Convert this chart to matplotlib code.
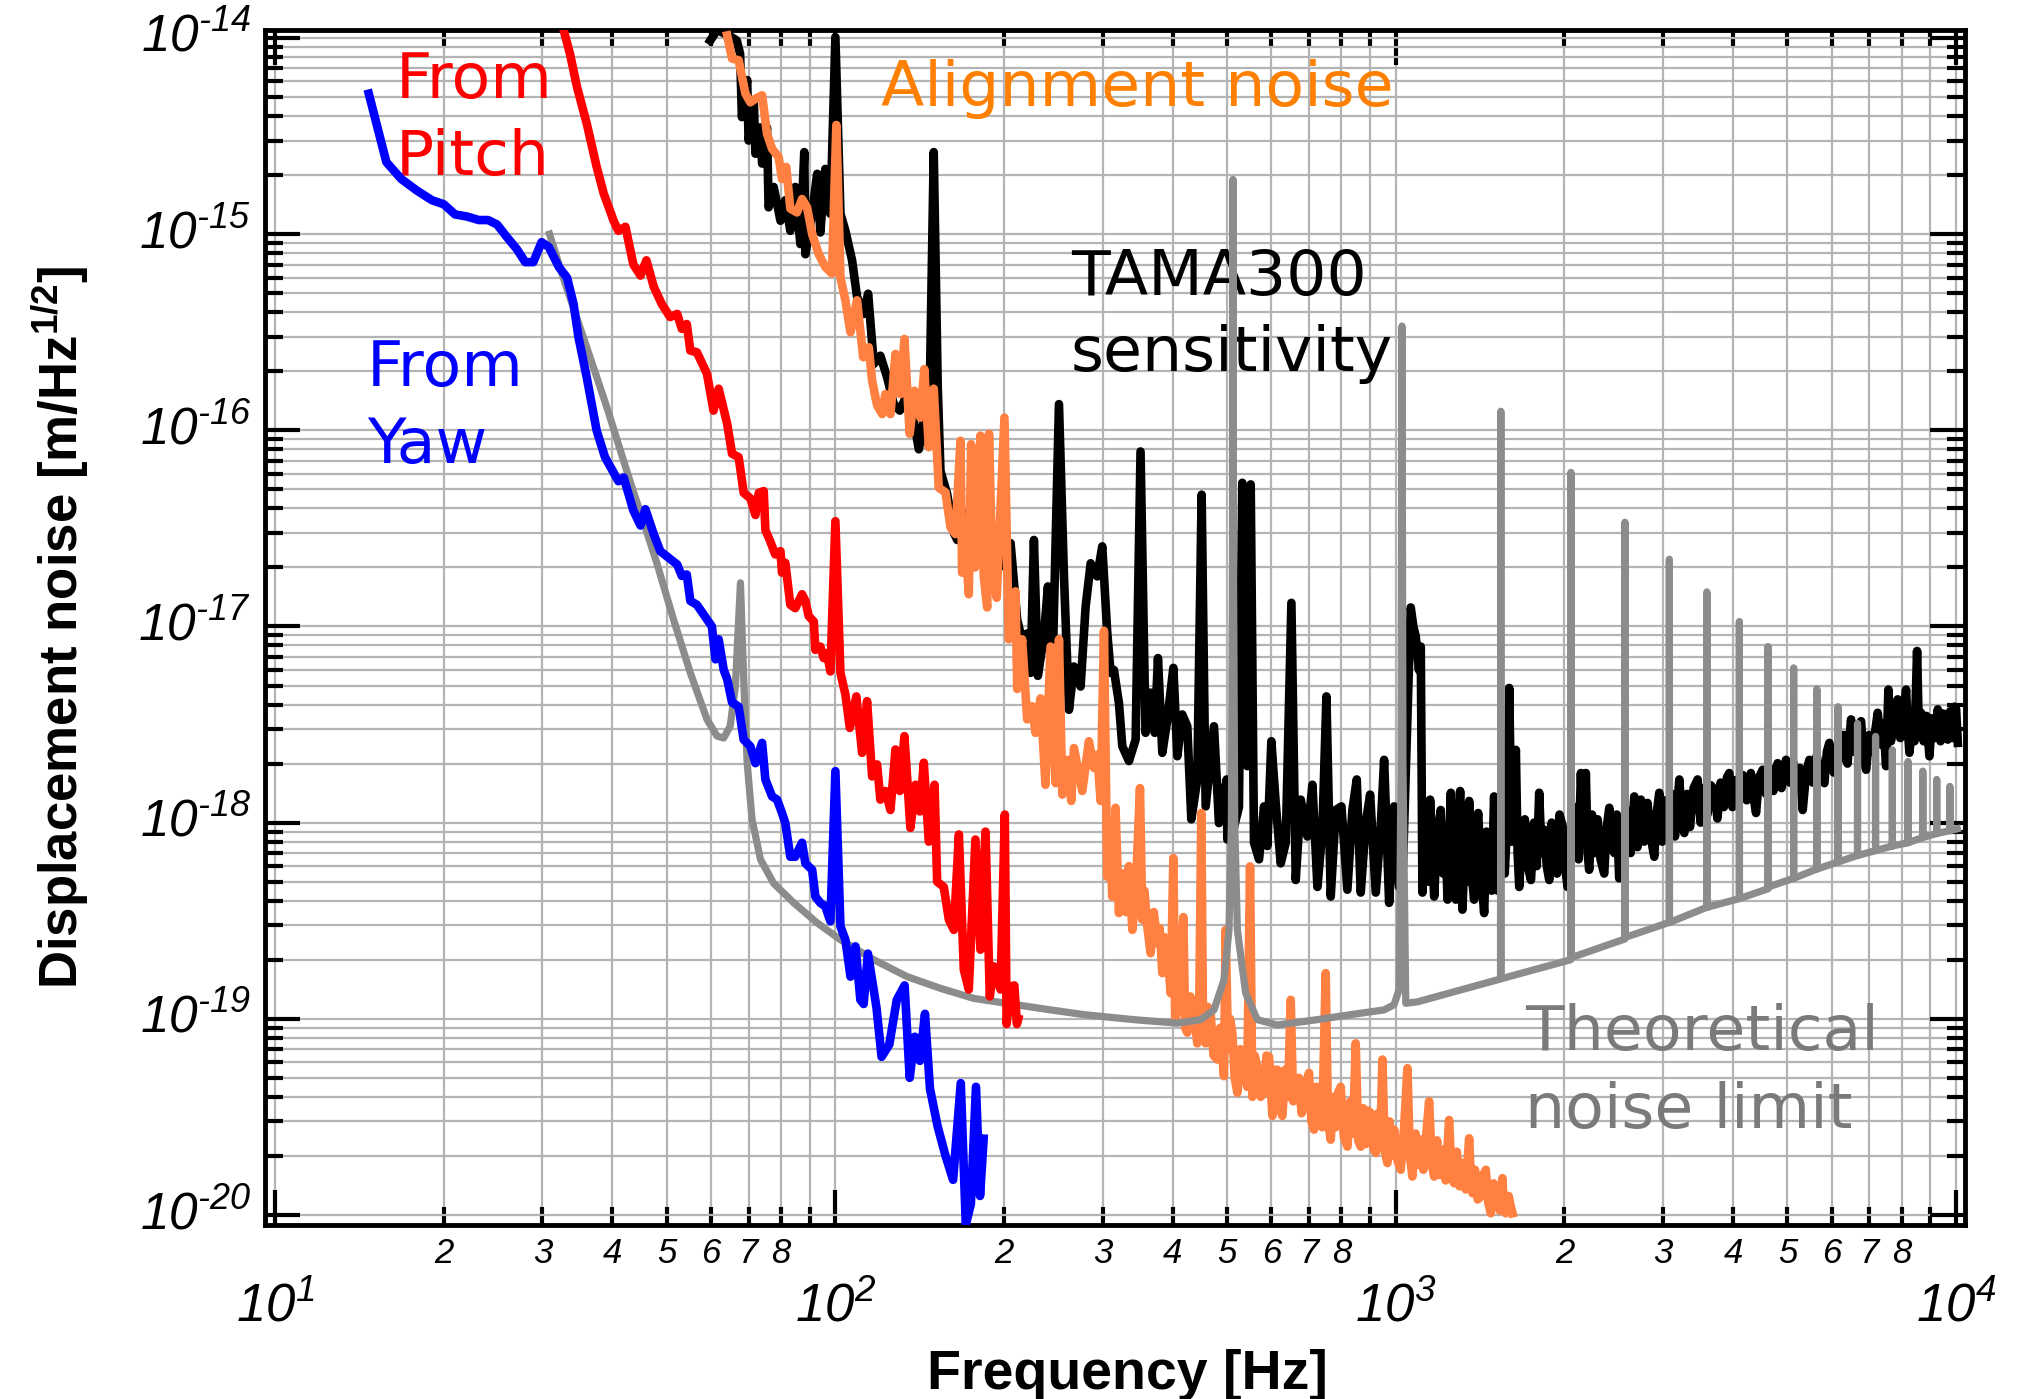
import matplotlib.pyplot as plt
from matplotlib.transforms import ScaledTranslation

# "From Yaw" (blue)
yaw_freq = [14.7, 15.8, 16.8, 17.9, 19.05, 20.0, 20.96, 22.0, 23.1, 24.0, 24.9, 25.9, 27.0, 27.96,
            28.9, 29.9, 30.8, 32.1, 33.2, 34.1, 34.8, 36.0, 37.5, 38.8, 41.0, 41.9, 43.6, 44.9,
            45.8, 47.4, 48.7, 50.4, 52.2, 53.2, 54.3, 55.1, 56.6, 58.2, 60.2, 61.1, 61.9, 63.2,
            64.1, 65.4, 67.2, 68.6, 70.5, 72.0, 74.0, 75.0, 77.1, 78.7, 80.3, 81.4, 83.1, 84.8,
            87.2, 88.4, 90.9, 92.1, 94.0, 95.95, 97.97, 100.0, 102.1, 104.2, 106.4, 108.6, 110.8,
            112.3, 114.3, 118.4, 120.9, 124.8, 128.7, 132.9, 135.7, 138.6, 141.5, 144.5, 147.5,
            152.2, 157.1, 162.2, 167.4, 170.9, 174.5, 178.2, 181.2, 183.9]
yaw_amp = [5.2e-15, 2.33e-15, 1.91e-15, 1.67e-15, 1.49e-15, 1.42e-15, 1.26e-15, 1.23e-15, 1.18e-15,
           1.18e-15, 1.12e-15, 9.7e-16, 8.4e-16, 7.2e-16, 7.2e-16, 9.1e-16, 8.6e-16, 6.8e-16,
           6.0e-16, 4.4e-16, 2.98e-16, 1.86e-16, 9.95e-17, 7.3e-17, 5.5e-17, 5.75e-17, 3.9e-17,
           3.27e-17, 3.96e-17, 2.96e-17, 2.42e-17, 2.24e-17, 2.07e-17, 1.81e-17, 1.84e-17,
           1.35e-17, 1.29e-17, 1.15e-17, 1.0e-17, 6.8e-18, 8.6e-18, 6.0e-18, 5.4e-18, 4.1e-18,
           3.9e-18, 2.65e-18, 2.45e-18, 2.01e-18, 2.55e-18, 1.66e-18, 1.36e-18, 1.31e-18,
           1.12e-18, 9.95e-19, 6.7e-19, 6.7e-19, 7.9e-19, 6.2e-19, 5.75e-19, 4.2e-19, 3.9e-19,
           3.74e-19, 3.14e-19, 1.83e-18, 2.96e-19, 2.53e-19, 1.64e-19, 2.34e-19, 1.25e-19,
           1.19e-19, 2.15e-19, 1.14e-19, 6.4e-20, 7.4e-20, 1.25e-19, 1.48e-19, 5.0e-20, 8.1e-20,
           6.1e-20, 1.06e-19, 4.4e-20, 2.83e-20, 2.02e-20, 1.51e-20, 4.7e-20, 8.9e-21, 1.14e-20,
           4.5e-20, 1.25e-20, 2.45e-20]

# "From Pitch" (red)
pitch_freq = [32.6, 33.6, 34.6, 36.0, 37.5, 38.6, 40.2, 41.0, 42.2, 43.6, 44.9, 46.0, 47.4, 49.0,
              50.7, 52.2, 53.2, 54.3, 55.1, 56.6, 59.0, 60.6, 61.9, 64.1, 65.4, 67.2, 68.6, 70.5,
              72.0, 73.0, 74.5, 75.0, 76.5, 78.1, 79.8, 80.3, 81.4, 83.1, 84.8, 87.2, 88.4, 89.6,
              91.5, 92.1, 94.0, 95.3, 96.6, 97.97, 100.0, 102.1, 104.2, 106.1, 109.0, 111.6, 113.9,
              116.3, 118.7, 120.3, 122.8, 125.4, 128.0, 130.3, 132.8, 136.1, 139.0, 141.5, 143.8,
              146.8, 150.3, 151.9, 156.1, 159.4, 162.7, 166.1, 169.5, 173.0, 177.8, 181.5, 185.3,
              188.6, 191.7, 197.1, 200.6, 202.1, 205.3, 208.6, 210.8, 212.0]
pitch_amp = [1.15e-14, 8.3e-15, 5.6e-15, 3.66e-15, 2.2e-15, 1.61e-15, 1.17e-15, 1.04e-15, 1.09e-15,
             7.0e-16, 6.15e-16, 7.35e-16, 5.4e-16, 4.4e-16, 3.78e-16, 3.92e-16, 3.29e-16, 3.48e-16,
             2.55e-16, 2.5e-16, 1.94e-16, 1.26e-16, 1.63e-16, 1.08e-16, 7.6e-17, 7.3e-17, 4.8e-17,
             4.5e-17, 3.7e-17, 4.8e-17, 4.9e-17, 3.1e-17, 2.72e-17, 2.33e-17, 2.42e-17, 1.88e-17,
             2.11e-17, 1.29e-17, 1.24e-17, 1.46e-17, 1.35e-17, 1.13e-17, 1.06e-17, 7.6e-18, 7.9e-18,
             6.9e-18, 7.3e-18, 5.9e-18, 3.44e-17, 5.8e-18, 4.5e-18, 3.04e-18, 4.4e-18, 2.27e-18,
             4.16e-18, 1.72e-18, 1.98e-18, 1.31e-18, 1.45e-18, 1.16e-18, 2.36e-18, 1.45e-18,
             2.76e-18, 9.4e-19, 1.56e-18, 1.14e-18, 2.02e-18, 8.0e-19, 1.56e-18, 5.0e-19, 4.7e-19,
             3.2e-19, 2.84e-19, 8.7e-19, 1.78e-19, 1.41e-19, 8.2e-19, 2.25e-19, 9.0e-19, 1.3e-19,
             1.85e-19, 1.41e-19, 1.1e-18, 9.4e-20, 1.46e-19, 1.48e-19, 9.4e-20, 1.0e-19]

# Alignment noise (orange)
align_freq = [64.1, 65.4, 67.2, 69.1, 70.5, 72.0, 74.0, 75.5, 77.1, 79.2, 80.3, 81.7, 83.1, 85.4,
              87.2, 89.0, 90.9, 93.4, 95.95, 98.6, 100.4, 102.1, 104.2, 106.4, 109.3, 112.1, 114.7,
              116.3, 118.7, 121.2, 122.8, 125.4, 128.0, 130.6, 132.8, 135.7, 138.4, 141.8, 144.1,
              146.8, 149.8, 152.9, 157.2, 160.5, 163.8, 167.2, 168.3, 170.7, 173.0, 174.7, 177.5,
              180.3, 181.5, 184.0, 186.6, 188.0, 190.5, 194.0, 200.3, 203.9, 209.6, 211.1, 215.4,
              219.9, 224.5, 227.6, 232.3, 237.1, 242.1, 247.2, 250.6, 254.1, 259.3, 263.6, 266.5,
              275.8, 283.4, 289.3, 293.3, 297.4, 301.5, 305.6, 309.0, 311.9, 316.2, 320.6, 325.5,
              330, 334, 338.8, 343.4, 349.6, 352.9, 356, 360.3, 365.2, 370, 375.4, 379, 383.2, 387,
              391.2, 396.6, 401.0, 404, 407.6, 412, 417.8, 421, 424.6, 430, 436.4, 442.4, 446,
              449.8, 453, 457.9, 462, 467.3, 473, 480.3, 486, 493.7, 497.1, 502, 506, 510.9, 516,
              521.6, 528, 536.1, 543, 549.5, 554.7, 560, 566.2, 574, 582.0, 588, 594.1, 602.4, 608,
              614.9, 621, 627.6, 635, 642, 649.5, 656, 663.0, 672, 679, 686.1, 693, 700.3, 707,
              714.8, 722, 729.8, 739, 749.9, 757, 765.5, 773, 781, 789, 797.6, 808, 819.8, 830, 839,
              848.4, 857, 866.0, 875, 884, 893, 902.5, 912, 921.2, 930, 938, 946.7, 956, 966.3, 975,
              984, 993.2, 1007, 1020.7, 1035, 1049.1, 1060, 1071, 1085, 1097, 1108, 1120, 1133,
              1146.9, 1160, 1171, 1185, 1198, 1211, 1228, 1245, 1258, 1271, 1285, 1300, 1315, 1333,
              1352, 1362, 1371, 1385, 1400, 1418, 1433, 1448, 1463, 1478, 1495, 1507, 1519, 1535,
              1550, 1560, 1572, 1590, 1605, 1616]
align_amp = [1.03e-14, 7.85e-15, 7.7e-15, 5.2e-15, 4.7e-15, 4.9e-15, 5.1e-15, 3.25e-15, 2.72e-15,
             2.47e-15, 1.91e-15, 2.2e-15, 1.35e-15, 1.29e-15, 1.51e-15, 1.37e-15, 1.0e-15, 7.9e-16,
             6.8e-16, 6.3e-16, 3.6e-15, 6.0e-16, 4.6e-16, 3.16e-16, 4.6e-16, 2.36e-16, 2.65e-16,
             1.79e-16, 1.34e-16, 1.21e-16, 1.53e-16, 1.21e-16, 2.45e-16, 1.53e-16, 2.92e-16,
             9.6e-17, 1.59e-16, 1.16e-16, 2.05e-16, 8.2e-17, 1.63e-16, 5.1e-17, 4.83e-17, 3.2e-17,
             2.96e-17, 8.85e-17, 1.88e-17, 2.6e-17, 1.46e-17, 8.5e-17, 2.0e-17, 2.29e-17, 9.4e-17,
             1.8e-17, 1.25e-17, 9.6e-17, 2.0e-17, 1.4e-17, 1.16e-16, 8.6e-18, 1.51e-17, 4.8e-18,
             8.6e-18, 3.36e-18, 3.92e-18, 2.87e-18, 4.3e-18, 1.56e-18, 7.9e-18, 1.59e-18, 8.6e-18,
             1.39e-18, 2.09e-18, 1.29e-18, 2.4e-18, 1.45e-18, 2.6e-18, 1.9e-18, 2.22e-18, 1.29e-18,
             9.5e-18, 5.3e-19, 9.6e-19, 4.2e-19, 1.19e-18, 3.46e-19, 5.5e-19,
             3.5e-19, 6.0e-19, 2.84e-19, 4.4e-19, 1.5e-18, 3.2e-19, 4.5e-19, 2.96e-19, 2.16e-19,
             3.5e-19, 2.43e-19, 2.9e-19, 1.71e-19, 2.6e-19,
             2.25e-19, 1.35e-19, 6.6e-19, 1.0e-19, 1.11e-19, 1.6e-19, 3.3e-19, 9e-20, 8.5e-20,
             1.3e-19, 1.07e-19, 7.5e-20, 1.2e-19, 1.12e-18, 9e-20, 7.5e-20, 1.15e-19, 1.07e-19,
             6.5e-20, 6.2e-20, 9e-20, 5.1e-20, 2.84e-19, 7e-20, 1.0e-19, 8.5e-20, 5e-20,
             4.2e-20, 7e-20, 5.7e-20, 4.5e-20, 5.98e-19, 4.0e-20, 6.5e-20, 5.7e-20, 4.0e-20,
             4.2e-20, 6.5e-20, 6.4e-20, 3.2e-20, 5.5e-20, 5.5e-20, 3.5e-20, 3.2e-20, 5.5e-20,
             4.0e-20, 1.25e-19, 3.8e-20, 3.86e-20, 5.0e-20, 3.3e-20, 3.57e-20, 4.8e-20, 5.3e-20,
             3.0e-20, 2.72e-20, 4.5e-20, 4.3e-20, 2.8e-20, 1.71e-19, 3.0e-20, 2.42e-20, 4.0e-20,
             2.8e-20, 4.2e-20, 4.5e-20, 2.5e-20, 2.23e-20, 3.8e-20, 2.6e-20, 7.5e-20, 2.4e-20,
             2.23e-20, 3.5e-20, 2.3e-20, 3.4e-20, 3.3e-20, 2.2e-20, 2.07e-20, 3.3e-20, 2.2e-20,
             6.2e-20, 2.1e-20, 1.84e-20, 3.0e-20, 2.0e-20, 2.72e-20, 1.9e-20, 1.7e-20, 2.8e-20,
             5.6e-20, 2.0e-20, 1.57e-20, 2.6e-20, 1.8e-20, 2.42e-20, 1.7e-20, 2.5e-20, 3.8e-20,
             1.8e-20, 1.57e-20, 2.4e-20, 1.6e-20, 2.15e-20, 1.5e-20, 3.05e-20, 1.6e-20, 1.45e-20,
             2.1e-20, 1.4e-20, 1.84e-20, 1.35e-20, 2.46e-20, 1.5e-20, 1.29e-20, 1.7e-20, 1.2e-20,
             1.24e-20, 1.6e-20, 1.7e-20, 1.15e-20, 1.02e-20, 1.45e-20, 1.1e-20, 1.24e-20, 1.05e-20,
             1.54e-20, 1.1e-20, 1.02e-20, 1.25e-20, 1.1e-20, 1.02e-20]

# TAMA300 sensitivity (black)
tama_freq = [59.8, 61.5, 64.9, 66.7, 67.6, 68.1, 69.6, 70.0, 71.5, 72.0, 73.5, 74.0, 75.5, 76.0,
             77.6, 79.8, 81.4, 83.1, 84.8, 86.6, 88.0, 88.4, 90.9, 92.8, 94.0, 95.95, 97.97, 100.0,
             102.1, 104.2, 107.1, 109.3, 112.4, 114.4, 117.1, 120.3, 123.7, 127.1, 130.3, 134.3,
             138.0, 140.9, 143.8, 146.8, 149.8, 152.3, 154.0, 158.3, 162.7, 165.0, 171.9, 173.0,
             177.8, 181.5, 186.6, 193.1, 197.1, 205.4, 211.1, 214.6, 219.9, 223.0, 226.1, 229.8,
             235.5, 239.5, 243.8, 250.6, 255.8, 261.1, 266.5, 273.9, 279.6, 285.5, 293.3, 299.4,
             305.6, 309.9, 314.1, 320.6, 325.1, 334.1, 343.4, 350.4, 357.7, 365.2, 371.5, 376.4,
             383.2, 391.2, 401.0, 407.6, 415.9, 424.6, 431.7, 442.4, 450.4, 457.9, 473.8, 483.6,
             499.2, 500.6, 512, 525, 532.3, 543.4, 551.0, 558.5, 570.2, 582.0, 590.0, 599.8, 610.6,
             623.3, 636.3, 651.3, 663.0, 676.8, 695.6, 710.1, 724.8, 739.8, 752.1, 765.5, 781.5,
             799.9, 819.8, 836.8, 851.9, 866.0, 884.0, 900.0, 921.2, 940.3, 953.3, 973.1, 993.2,
             1013.9, 1030, 1063.5, 1075, 1085.7, 1100, 1108.3, 1115.9, 1130, 1145, 1151.6, 1165,
             1171, 1185, 1203, 1215, 1228, 1237, 1254, 1265, 1280, 1292, 1303, 1315, 1330, 1340,
             1352, 1366, 1380, 1392, 1403, 1420, 1438, 1452, 1468, 1483, 1498, 1510, 1520, 1545,
             1565, 1580, 1594, 1610, 1625, 1638, 1650, 1661, 1680, 1700, 1720, 1743, 1765, 1785,
             1803, 1820, 1841, 1860, 1879, 1898, 1918, 1940, 1960, 1985, 2005, 2026, 2050, 2075,
             2100, 2120, 2140, 2160, 2184, 2200, 2214, 2240, 2265, 2292, 2320, 2355, 2380, 2405,
             2430, 2455, 2480, 2505, 2530, 2560, 2590, 2625, 2665, 2700, 2738, 2775, 2814, 2850,
             2893, 2920, 2953, 2990, 3030, 3070, 3110, 3150, 3207, 3240, 3273, 3310, 3350, 3400,
             3457, 3500, 3550, 3600, 3650, 3703, 3750, 3800, 3850, 3900, 3937, 3990, 4050, 4100,
             4160, 4230, 4303, 4350, 4395, 4450, 4516, 4580, 4650, 4720, 4803, 4880, 4971, 5050,
             5130, 5200, 5260, 5324, 5400, 5472, 5550, 5640, 5720, 5820, 5880, 5940, 6050, 6120,
             6190, 6300, 6400, 6494, 6570, 6660, 6767, 6830, 6908, 7000, 7100, 7180, 7245, 7350,
             7420, 7499, 7571, 7650, 7750, 7867, 7950, 8050, 8141, 8200, 8254, 8350, 8430, 8518,
             8580, 8659, 8750, 8850, 8962, 9050, 9150, 9276, 9380, 9480, 9560, 9664, 9760, 9850,
             9930, 10000, 10070]
tama_amp = [9.7e-15, 1.1e-14, 1.02e-14, 9.7e-15, 8.3e-15, 3.95e-15, 6.1e-15, 3.0e-15, 4.8e-15,
            2.57e-15, 3.5e-15, 2.29e-15, 3.5e-15, 1.37e-15, 1.74e-15, 1.17e-15, 1.49e-15, 1.04e-15,
            1.74e-15, 8.9e-16, 2.62e-15, 7.9e-16, 1.29e-15, 2.03e-15, 1.02e-15, 2.15e-15, 1.27e-15,
            1.01e-14, 1.27e-15, 1.04e-15, 7.35e-16, 4.8e-16, 3.92e-16, 4.97e-16, 2.18e-16, 2.4e-16,
            1.86e-16, 1.36e-16, 1.26e-16, 1.53e-16, 1.12e-16, 8.0e-17, 1.12e-16, 8.3e-17, 2.62e-15,
            1.63e-16, 6.2e-17, 4.73e-17, 3.0e-17, 2.76e-17, 3.8e-17, 1.94e-17, 2.18e-17, 2.99e-17,
            1.94e-17, 2.87e-17, 2.02e-17, 2.66e-17, 1.08e-17, 8.9e-18, 9.2e-18, 5.8e-18, 2.76e-17,
            5.6e-18, 8.9e-18, 1.6e-17, 5.3e-18, 1.36e-16, 1.8e-17, 3.76e-18, 6.25e-18, 4.94e-18,
            1.26e-17, 2.1e-17, 1.8e-17, 2.56e-17, 9.3e-18, 5.8e-18, 6.0e-18, 4.08e-18, 2.45e-18,
            2.06e-18, 2.65e-18, 7.8e-17, 2.87e-18, 4.6e-18, 2.87e-18, 6.9e-18, 2.27e-18, 3.36e-18,
            6.15e-18, 2.18e-18, 3.56e-18, 3.1e-18, 1.04e-18, 1.66e-18, 4.7e-17, 1.21e-18, 3.1e-18,
            9.95e-19, 1.66e-18, 8.2e-19, 9.0e-19, 1.2e-18, 5.4e-17, 1.94e-18, 5.3e-17, 7.9e-19,
            6.5e-19, 1.21e-18, 7.6e-19, 2.6e-18, 1.26e-18, 6.2e-19, 7.9e-19, 1.32e-17, 5.1e-19,
            1.31e-18, 8.5e-19, 1.56e-18, 4.7e-19, 9.2e-19, 4.4e-18, 4.2e-19, 1.16e-18, 1.21e-18,
            4.55e-19, 1.16e-18, 1.66e-18, 4.4e-19, 9.95e-19, 1.39e-18, 4.4e-19, 9.6e-19, 2.09e-18,
            3.9e-19, 1.21e-18, 4.7e-19, 6.0e-19, 1.25e-17, 1.0e-17, 8.9e-18, 6.0e-18, 7.9e-18,
            4.4e-19, 9.0e-19, 5.0e-19, 1.31e-18, 6.0e-19, 4.2e-19, 8.5e-19, 1.16e-18, 5.5e-19,
            8.0e-19, 4.05e-19, 1.42e-18, 6.0e-19, 4.05e-19, 9.0e-19, 1.45e-18, 3.6e-19, 8.0e-19,
            5.0e-19, 1.29e-18, 5.5e-19, 4.05e-19, 8.5e-19, 1.12e-18, 5.5e-19, 3.46e-19, 9.0e-19,
            7.9e-19, 4.5e-19, 1.36e-18, 6.0e-19, 4.5e-19, 9.0e-19, 5.5e-19, 1.0e-18, 4.86e-18,
            8.0e-19, 1.2e-18, 2.35e-18, 7.0e-19, 4.7e-19, 9.0e-19, 1.04e-18, 6.0e-19, 5.1e-19,
            1.0e-18, 6.0e-19, 1.42e-18, 7.0e-19, 9.2e-19, 6.0e-19, 5.1e-19, 1.0e-18, 8.0e-19,
            5.5e-19, 1.1e-18, 9.6e-19, 6.0e-19, 4.7e-19, 9.0e-19, 7.0e-19, 1.2e-18, 6.5e-19,
            1.79e-18, 8.0e-19, 1.79e-18, 7.0e-19, 5.75e-19, 1.1e-18, 7.0e-19, 1.04e-18, 6.5e-19,
            5.5e-19, 9.5e-19, 1.19e-18, 7.5e-19, 7.0e-19, 1.1e-18, 5.2e-19, 9.0e-19, 6.5e-19,
            1.15e-18, 7.0e-19, 1.36e-18, 7.5e-19, 1.31e-18, 8.0e-19, 1.26e-18, 8.5e-19, 6.7e-19,
            1.1e-18, 1.42e-18, 8.0e-19, 1.3e-18, 9.0e-19, 1.4e-18, 8.5e-19, 1.66e-18, 1.0e-18,
            8.85e-19, 1.4e-18, 9.5e-19, 1.5e-18, 1.66e-18, 1.0e-18, 1.5e-18, 1.1e-18, 1.55e-18,
            1.47e-18, 1.05e-18, 1.6e-18, 1.2e-18, 1.7e-18, 1.79e-18, 1.2e-18, 1.65e-18, 1.3e-18,
            1.75e-18, 1.3e-18, 1.79e-18, 1.35e-18, 1.12e-18, 1.7e-18, 1.86e-18, 1.4e-18, 1.9e-18,
            1.45e-18, 2.01e-18, 1.5e-18, 2.09e-18, 1.6e-18, 2.0e-18, 1.5e-18, 1.9e-18, 1.16e-18,
            1.8e-18, 2.09e-18, 1.6e-18, 2.2e-18, 1.7e-18, 1.59e-18, 2.3e-18, 2.55e-18, 1.8e-18,
            2.4e-18, 2.09e-18, 2.8e-18, 2.0e-18, 3.36e-18, 2.3e-18, 2.9e-18, 3.29e-18, 2.2e-18,
            1.86e-18, 2.8e-18, 2.3e-18, 3.0e-18, 3.63e-18, 2.5e-18, 3.2e-18, 1.94e-18, 4.77e-18,
            2.6e-18, 3.3e-18, 4.25e-18, 2.7e-18, 3.4e-18, 4.77e-18, 3.0e-18, 2.27e-18, 3.3e-18,
            2.6e-18, 7.5e-18, 3.0e-18, 3.63e-18, 2.6e-18, 3.5e-18, 2.18e-18, 3.4e-18, 2.7e-18,
            3.78e-18, 2.6e-18, 3.6e-18, 2.8e-18, 2.65e-18, 3.7e-18, 2.7e-18, 3.9e-18, 3.78e-18,
            2.55e-18]

# Theoretical noise limit (gray), violin-mode spikes every ~513 Hz
limit_freq = [30.9, 32.5, 35.0, 39.1, 43.0, 45.5, 48.0, 51.4, 55.1, 59.0, 61.5, 63.2, 64.9, 66.3,
              67.7, 68.6, 69.6, 71.0, 73.5, 77.6, 84.3, 92.8, 102.1, 117.1, 134.3, 154.0, 176.6,
              242.1, 277.6, 341.0, 407.6, 448.6, 473.8, 493.7, 504.0, 509.0, 511.5, 512.3, 513.1,
              516.0, 521.6, 539.8, 566.2, 614.9, 724.8, 831.0, 953.3, 993.2, 1014, 1022, 1026,
              1030, 1042, 1093, 1519, 1538, 1540, 1542, 2052, 2054, 2056, 2563, 2565, 2567,
              3076, 3078, 3080, 3589, 3591, 3593, 4102, 4104, 4106, 4615, 4617, 4619, 5128, 5130,
              5132, 5641, 5643, 5645, 6154, 6156, 6158, 6667, 6669, 6671, 7180, 7182, 7184, 7693,
              7695, 7697, 8206, 8208, 8210, 8719, 8721, 8723, 9232, 9234, 9236, 9745, 9747, 9749,
              10050]
limit_amp = [1.0e-15, 6.3e-16, 3.36e-16, 1.31e-16, 5.5e-17, 3.38e-17, 2.11e-17, 1.09e-17, 5.8e-18,
             3.36e-18, 2.76e-18, 2.7e-18, 3.1e-18, 4.96e-18, 1.67e-17, 5.4e-18, 2.01e-18, 1.04e-18,
             6.5e-19, 4.9e-19, 3.9e-19, 3.08e-19, 2.53e-19, 2.0e-19, 1.64e-19, 1.43e-19, 1.27e-19,
             1.11e-19, 1.05e-19, 9.9e-20, 9.5e-20, 9.9e-20, 1.11e-19, 1.58e-19, 2.84e-19, 1.0e-18,
             3e-17, 1.9e-15, 3e-17, 1.0e-18, 2.84e-19, 1.35e-19, 9.9e-20, 9.3e-20, 9.9e-20, 1.05e-19,
             1.11e-19, 1.18e-19, 1.41e-19, 2e-18, 3.4e-16, 2e-18, 1.2e-19, 1.22e-19, 1.58e-19,
             1.6e-19, 1.25e-16, 1.6e-19, 2.0e-19, 6.1e-17, 2.05e-19, 2.55e-19, 3.4e-17, 2.6e-19,
             3.1e-19, 2.2e-17, 3.1e-19, 3.7e-19, 1.5e-17, 3.7e-19, 4.1e-19, 1.06e-17, 4.1e-19,
             4.6e-19, 7.9e-18, 4.7e-19, 5.2e-19, 6.15e-18, 5.2e-19, 5.8e-19, 4.8e-18, 5.8e-19,
             6.3e-19, 3.9e-18, 6.3e-19, 6.8e-19, 3.2e-18, 6.8e-19, 7.2e-19, 2.75e-18, 7.2e-19,
             7.6e-19, 2.35e-18, 7.6e-19, 7.9e-19, 2.05e-18, 7.9e-19, 8.4e-19, 1.83e-18, 8.4e-19,
             8.8e-19, 1.66e-18, 8.8e-19, 9.1e-19, 1.53e-18, 9.1e-19, 9.3e-19]

x_major = [10, 100, 1000, 10000]
x_major_labels = ['$10^{1}$', '$10^{2}$', '$10^{3}$', '$10^{4}$']
x_minor = [k * d for d in (10, 100, 1000) for k in range(2, 10)]
x_minor_labels = ['2', '3', '4', '5', '6', '7', '8', ''] * 3
y_major = [1e-20, 1e-19, 1e-18, 1e-17, 1e-16, 1e-15, 1e-14]
y_major_labels = ['$10^{\\text{-20}}$', '$10^{\\text{-19}}$', '$10^{\\text{-18}}$',
                  '$10^{\\text{-17}}$', '$10^{\\text{-16}}$', '$10^{\\text{-15}}$',
                  '$10^{\\text{-14}}$']
y_minor = [k * d for d in (1e-20, 1e-19, 1e-18, 1e-17, 1e-16, 1e-15) for k in range(2, 10)]

plt.rcParams['mathtext.fontset'] = 'custom'
plt.rcParams['mathtext.rm'] = 'Liberation Sans:italic'
plt.rcParams['mathtext.it'] = 'Liberation Sans:italic'
plt.rcParams['mathtext.bf'] = 'Liberation Sans:bold'

fig = plt.figure(figsize=(20.19, 13.99), dpi=100)
ax = fig.add_axes([0.1313, 0.1244, 0.8420, 0.8542])

ax.plot(tama_freq, tama_amp, color='black', lw=6.2, zorder=2)
ax.plot(align_freq, align_amp, color='#ff8040', lw=6.2, zorder=3)
ax.plot(limit_freq, limit_amp, color='#8c8c8c', lw=5.2, zorder=4)
ax.plot(yaw_freq, yaw_amp, color='#0000ff', lw=6.2, zorder=5)
ax.plot(pitch_freq, pitch_amp, color='#ff0000', lw=6.2, zorder=6)

ax.set_xscale('log')
ax.set_yscale('log')
ax.set_xlim(9.6, 10376)
ax.set_ylim(10 ** -20.051, 10 ** -13.959)

ax.set_xticks(x_major)
ax.set_xticklabels(x_major_labels, fontsize=38)
ax.set_xticks(x_minor, minor=True)
ax.set_xticklabels(x_minor_labels, minor=True, fontsize=25, fontstyle='italic',
                   family='Liberation Sans')
ax.set_yticks(y_major)
ax.set_yticklabels(y_major_labels, fontsize=37)
ax.set_yticks(y_minor, minor=True)
ax.set_yticklabels([], minor=True)
for lab in ax.get_yticklabels():
    lab.set_va('center')
shift = ScaledTranslation(6 / 72, 0, fig.dpi_scale_trans)
for lab in ax.xaxis.get_majorticklabels():
    lab.set_transform(lab.get_transform() + shift)

ax.tick_params(which='both', direction='in', top=True, right=True, width=3, color='black')
ax.tick_params(which='major', length=25)
ax.tick_params(which='minor', length=13)
ax.tick_params(axis='x', which='major', pad=40)
ax.tick_params(axis='x', which='minor', pad=9)
ax.tick_params(axis='y', which='major', pad=10)

ax.grid(True, which='both', color='#b4b4b4', lw=1.6)
ax.set_axisbelow(True)
for sp in ax.spines.values():
    sp.set_linewidth(3.5)

ax.set_xlabel('Frequency [Hz]', fontsize=40, fontweight='bold', family='Liberation Sans')
ax.xaxis.set_label_coords(0.507, -0.104)
ax.set_ylabel('Displacement noise [m/Hz$^{\\mathbf{1/2}}$]', fontsize=38,
              fontweight='bold', family='Liberation Sans')
ax.yaxis.set_label_coords(-0.1024, 0.5)

txt = dict(fontsize=45.5, family='DejaVu Sans', ha='left', va='baseline')
ax.text(16.4, 4.95e-15, 'From', color='#ff0000', **txt)
ax.text(16.4, 2.01e-15, 'Pitch', color='#ff0000', **txt)
ax.text(14.6, 1.68e-16, 'From', color='#0000ff', **txt)
ax.text(14.6, 6.82e-17, 'Yaw', color='#0000ff', **txt)
ax.text(120.8, 4.49e-15, 'Alignment noise', color='#ff8000', **txt)
ax.text(263, 4.92e-16, 'TAMA300', color='black', **txt)
ax.text(263, 2.0e-16, 'sensitivity', color='black', **txt)
ax.text(1700, 6.95e-20, 'Theoretical', color='#7a7a7a', **txt)
ax.text(1700, 2.77e-20, 'noise limit', color='#7a7a7a', **txt)

fig.savefig('out.png', dpi=100)
